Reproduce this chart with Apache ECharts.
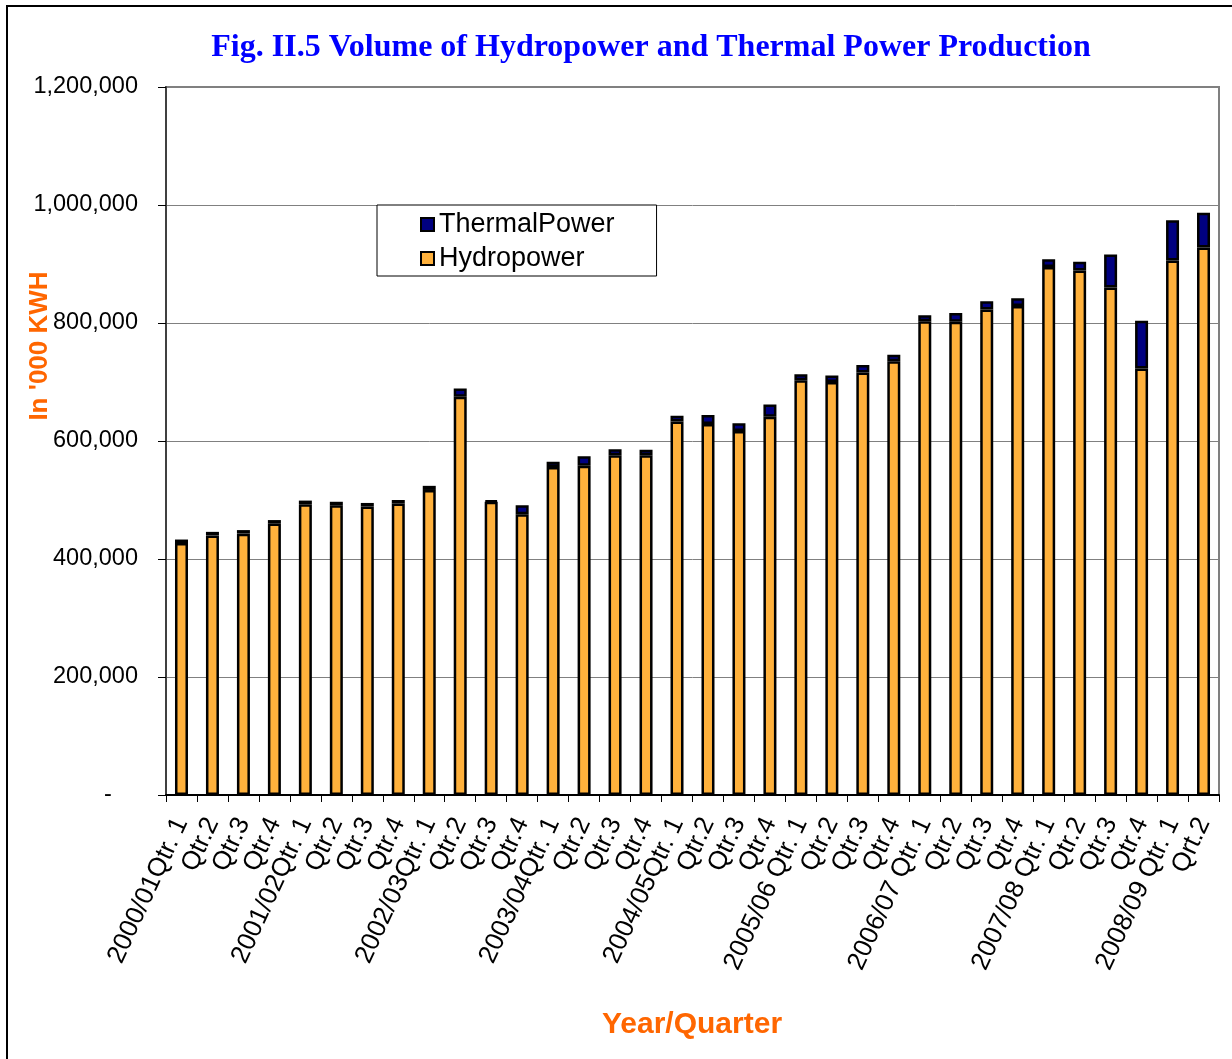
<!DOCTYPE html>
<html><head><meta charset="utf-8">
<script src="https://cdn.jsdelivr.net/npm/echarts@6/dist/echarts.min.js"></script>
<style>html,body{margin:0;padding:0;background:#fff}#c{width:1232px;height:1059px}</style>
</head><body><div id="c"></div>
<script>
const categories = [
  "2000/01Qtr. 1","Qtr.2","Qtr.3","Qtr.4",
  "2001/02Qtr. 1","Qtr.2","Qtr.3","Qtr.4",
  "2002/03Qtr. 1","Qtr.2","Qtr.3","Qtr.4",
  "2003/04Qtr. 1","Qtr.2","Qtr.3","Qtr.4",
  "2004/05Qtr. 1","Qtr.2","Qtr.3","Qtr.4",
  "2005/06 Qtr. 1","Qtr.2","Qtr.3","Qtr.4",
  "2006/07 Qtr. 1","Qtr.2","Qtr.3","Qtr.4",
  "2007/08 Qtr. 1","Qtr.2","Qtr.3","Qtr.4",
  "2008/09 Qtr. 1","Qrt.2"
];
const hydropower = [
  427000, 440000, 443000, 460000,
  493000, 491000, 489000, 494000,
  517000, 675000, 497000, 476000,
  556000, 558000, 576000, 576000,
  633000, 629000, 617000, 641000,
  703000, 700000, 716000, 735000,
  803000, 802000, 823000, 829000,
  895000, 889000, 860000, 723000,
  906000, 928000
];
const thermalPower = [
  6000, 6000, 6000, 6000,
  6000, 6000, 6000, 6000,
  7000, 14000, 2000, 15000,
  9000, 16000, 10000, 9000,
  10000, 15000, 13000, 21000,
  10000, 11000, 13000, 11000,
  10000, 15000, 14000, 13000,
  13000, 15000, 56000, 81000,
  68000, 59000
];
const yMin = 0, yMax = 1200000, yStep = 200000;

const chart = echarts.init(document.getElementById('c'), null, {renderer: 'canvas'});
const FONT = 'Liberation Sans, Arial, sans-serif';
chart.setOption({
  animation: false,
  backgroundColor: '#fff',
  textStyle: {fontFamily: FONT},
  grid: {left: 166, right: 13, top: 87, bottom: 264, show: true, borderColor: '#808080', borderWidth: 2, backgroundColor: '#fff'},
  legend: {
    orient: 'vertical', left: 377, top: 205,
    data: ['ThermalPower', 'Hydropower'],
    backgroundColor: '#fff', borderColor: '#000', borderWidth: 1,
    padding: [6, 42, 4, 43],
    itemWidth: 13, itemHeight: 13, itemGap: 7,
    icon: 'rect',
    textStyle: {fontSize: 27, color: '#000', fontFamily: FONT}
  },
  xAxis: {
    type: 'category', data: categories,
    axisLine: {lineStyle: {color: '#000', width: 2}},
    axisTick: {show: true, length: 7, lineStyle: {color: '#000', width: 1}},
    axisLabel: {interval: 0, rotate: 65, fontSize: 26, color: '#000', fontFamily: FONT, margin: 24}
  },
  yAxis: {
    type: 'value', min: yMin, max: yMax, interval: yStep,
    axisLine: {show: true, lineStyle: {color: '#404040', width: 2}},
    axisTick: {show: true, length: 8, lineStyle: {color: '#000', width: 1}},
    splitLine: {lineStyle: {color: '#808080', width: 1}},
    axisLabel: {fontSize: 23.5, color: '#000', fontFamily: FONT, margin: 28,
      formatter: v => v === 0 ? '-    ' : v.toLocaleString('en-US')}
  },
  series: [
    {name: 'Hydropower', type: 'bar', stack: 'total', data: hydropower, barWidth: 13,
     itemStyle: {color: '#FFB13C', borderColor: '#000', borderWidth: 2.5}},
    {name: 'ThermalPower', type: 'bar', stack: 'total', data: thermalPower, barWidth: 13,
     itemStyle: {color: '#000080', borderColor: '#000', borderWidth: 2.5}}
  ],
  graphic: [
    {type: 'rect', shape: {x: 7, y: 6, width: 1250, height: 1080}, style: {fill: 'none', stroke: '#000', lineWidth: 2}, silent: true, z: -1},
    {type: 'text', x: 651, y: 48, style: {text: 'Fig. II.5 Volume of Hydropower and Thermal Power Production', fill: '#0000FF', font: 'bold 32px "Liberation Serif", "Times New Roman", serif', textAlign: 'center', textVerticalAlign: 'middle'}},
    {type: 'text', x: 40, y: 346, rotation: Math.PI / 2, style: {text: "In '000 KWH", fill: '#FF6600', font: 'bold 26px "Liberation Sans", Arial, sans-serif', textAlign: 'center', textVerticalAlign: 'middle'}},
    {type: 'text', x: 692, y: 1025, style: {text: 'Year/Quarter', fill: '#FF6600', font: 'bold 30px "Liberation Sans", Arial, sans-serif', textAlign: 'center', textVerticalAlign: 'middle'}}
  ]
});
</script>
</body></html>
